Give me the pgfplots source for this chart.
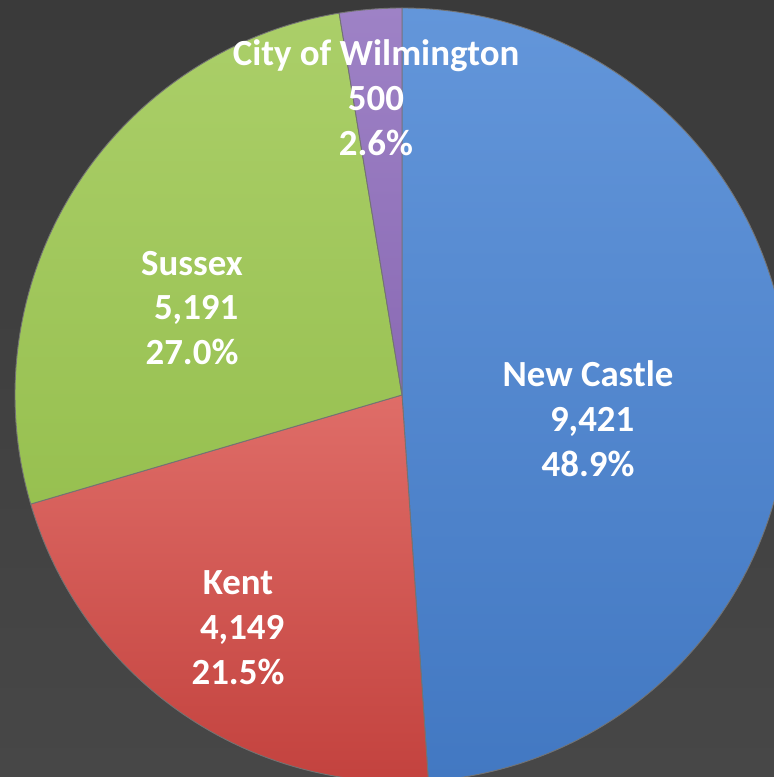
\documentclass[border=0pt]{standalone}
\usepackage{pgfplots}
\pgfplotsset{compat=1.18}
\usepackage{fontspec}
\setmainfont{Carlito}
\definecolor{bgtop}{HTML}{3A3A3A}
\definecolor{bgbot}{HTML}{474747}
\definecolor{bluetop}{HTML}{6396DA}
\definecolor{bluebot}{HTML}{4278C2}
\definecolor{redtop}{HTML}{DF6D68}
\definecolor{redbot}{HTML}{C3423E}
\definecolor{greentop}{HTML}{ABCF69}
\definecolor{greenbot}{HTML}{97C050}
\definecolor{purpletop}{HTML}{9E82C6}
\definecolor{purplebot}{HTML}{8A6AB4}
\tikzset{lbl/.style={font=\fontsize{37}{45}\selectfont\bfseries, text=white, align=center, inner sep=0pt}}
\begin{document}
\begin{tikzpicture}
\begin{axis}[
  scale only axis, width=774bp, height=777bp,
  xmin=0, xmax=774, ymin=0, ymax=777, y dir=reverse,
  hide axis, clip=true,
  every axis plot/.append style={samples=180, line join=round},
]
% background
\addplot[draw=none, top color=bgtop, bottom color=bgbot] coordinates {(0,0) (774,0) (774,777) (0,777)} -- cycle;
% slices: cumulative counts 0 | 9421 | 13570 | 18761 | 19261 (total 19261)
\addplot[domain=0:9421, variable=\t, top color=bluetop, bottom color=bluebot, draw=black!55, line width=0.9pt]
  ({402+387*sin(360*\t/19261)}, {395-387*cos(360*\t/19261)}) -- (axis cs:402,395) -- cycle;
\addplot[domain=9421:13570, variable=\t, top color=redtop, bottom color=redbot, draw=black!55, line width=0.9pt]
  ({402+387*sin(360*\t/19261)}, {395-387*cos(360*\t/19261)}) -- (axis cs:402,395) -- cycle;
\addplot[domain=13570:18761, variable=\t, top color=greentop, bottom color=greenbot, draw=black!55, line width=0.9pt]
  ({402+387*sin(360*\t/19261)}, {395-387*cos(360*\t/19261)}) -- (axis cs:402,395) -- cycle;
\addplot[domain=18761:19261, variable=\t, samples=20, top color=purpletop, bottom color=purplebot, draw=black!55, line width=0.9pt]
  ({402+387*sin(360*\t/19261)}, {395-387*cos(360*\t/19261)}) -- (axis cs:402,395) -- cycle;
% labels
\node[lbl] at (axis cs:588,419) {New Castle\\\mbox{}\ 9,421\\48.9\%};
\node[lbl] at (axis cs:238,628) {Kent\\\mbox{}\ 4,149\\21.5\%};
\node[lbl] at (axis cs:192,308) {Sussex\\\mbox{}\ 5,191\\27.0\%};
\node[lbl] at (axis cs:376,98) {City of Wilmington\\500\\2.6\%};
\end{axis}
\end{tikzpicture}
\end{document}
